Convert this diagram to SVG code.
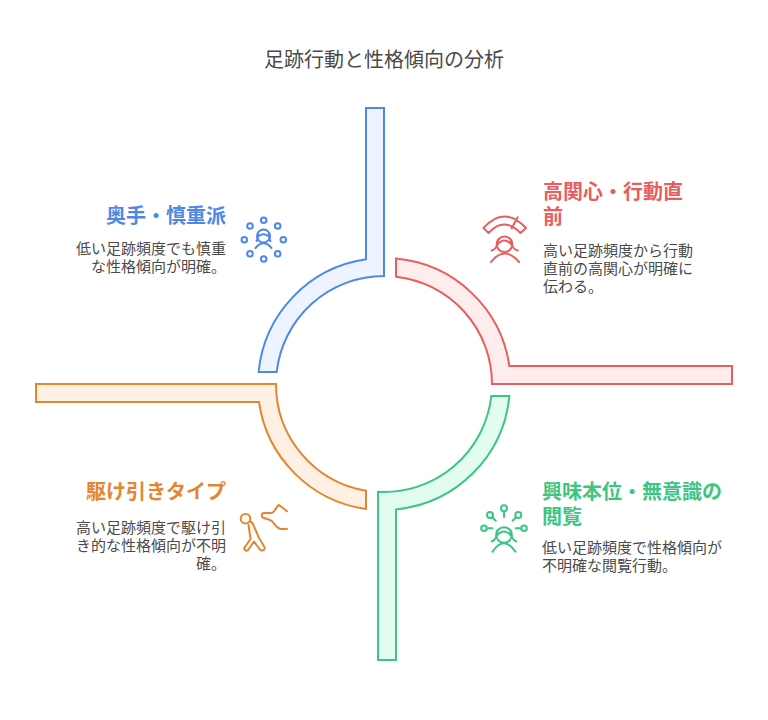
<svg xmlns="http://www.w3.org/2000/svg" width="768" height="720" viewBox="0 0 768 720">
<style>
text{font-family:"Noto Sans CJK JP","Noto Sans",sans-serif}
.title{font-size:20px;fill:#4a4a4a}
.h{font-size:20px;font-weight:700}
.b{font-size:15px;fill:#4a4a4a}
.e{text-anchor:end}
.band{stroke-width:2;stroke-linejoin:miter}
.ic{fill:none;stroke-width:2;stroke-linecap:round;stroke-linejoin:round}
.blue{stroke:#4e88e7}.red{stroke:#e85d5d}.green{stroke:#3cc583}.orange{stroke:#e48631}
</style>
<rect width="768" height="720" fill="#fff"/>
<text class="title" x="384" y="67" text-anchor="middle">足跡行動と性格傾向の分析</text>
<g id="connectors">
<path class="band blue" fill="#edf3ff" d="M366 108H384V276A108 108 0 0 0 276.7 372H258.6A126 126 0 0 1 366 259.3Z"/>
<path class="band red" fill="#ffecec" d="M396 258.6A126 126 0 0 1 509.4 366H732V384H492A108 108 0 0 0 396 276.7Z"/>
<path class="band orange" fill="#fff0e4" d="M36 384H276A108 108 0 0 0 366 490.7V509A126 126 0 0 1 259 402H36Z"/>
<path class="band green" fill="#e2fdf0" d="M378 660V491.8A108 108 0 0 0 491.3 396H509.4A126 126 0 0 1 396 509.4V660Z"/>
</g>
<g id="node-blue">
<text class="h e" x="226" y="223" fill="#4e88e7">奥手・慎重派</text>
<text class="b e"><tspan x="226" y="254">低い足跡頻度でも慎重</tspan><tspan x="226" y="272">な性格傾向が明確。</tspan></text>
<g class="ic blue">
<circle cx="263.700" cy="220.300" r="2.800"/><circle cx="277.700" cy="226" r="2.800"/><circle cx="283.300" cy="239.700" r="2.800"/><circle cx="277.700" cy="253.700" r="2.800"/><circle cx="263.700" cy="259" r="2.800"/><circle cx="250" cy="253.700" r="2.800"/><circle cx="244.300" cy="239.700" r="2.800"/><circle cx="250" cy="226" r="2.800"/>
<circle cx="263.500" cy="236" r="6.500"/>
<path d="M257.500 237Q263.500 231.500 269.500 237M256.500 241Q258 239.500 258 233M270.500 241Q269 239.500 269 233M255.500 248Q263.500 238.500 271.500 248"/>
</g>
</g>
<g id="node-red">
<text class="h" x="543" y="199" fill="#e85d5d">高関心・行動直</text>
<text class="h" x="543" y="224" fill="#e85d5d">前</text>
<text class="b"><tspan x="543" y="256">高い足跡頻度から行動</tspan><tspan x="543" y="274">直前の高関心が明確に</tspan><tspan x="543" y="292">伝わる。</tspan></text>
<g class="ic red">
<path d="M483.500 228Q504 205 526 228L520.500 233Q504 216 488.500 233ZM511.700 228.300L517.700 217.300"/>
<circle cx="504.500" cy="244.300" r="7.800"/>
<path d="M497 245Q504.500 236 512 245M491.700 250.500Q497 249.500 498 240M517.700 250.500Q512 249.500 511 240M491 262Q504.500 245 519 262"/>
</g>
</g>
<g id="node-orange">
<text class="h e" x="226" y="499" fill="#e48631">駆け引きタイプ</text>
<text class="b e"><tspan x="226" y="533">高い足跡頻度で駆け引</tspan><tspan x="226" y="551">き的な性格傾向が不明</tspan><tspan x="226" y="569">確。</tspan></text>
<g class="ic orange">
<circle cx="245.500" cy="518.700" r="4.800"/>
<path d="M250 521L253 524L259 538L264.500 547C265.500 550 261.500 552 259.500 549L254 541.500L248 550C246 552 243 549 245 547L250.500 539L248.500 525"/>
<path d="M287 511.300L279 505C276 506 275 513 271 513H264C261 513 261 517 264 518L270 520C274 521 275 528 281 529H287"/>
</g>
</g>
<g id="node-green">
<text class="h" x="542" y="499" fill="#3cc583">興味本位・無意識の</text>
<text class="h" x="542" y="524" fill="#3cc583">閲覧</text>
<text class="b"><tspan x="542" y="553">低い足跡頻度で性格傾向が</tspan><tspan x="542" y="571">不明確な閲覧行動。</tspan></text>
<g class="ic green">
<circle cx="504" cy="508.300" r="3"/><circle cx="490" cy="515" r="3"/><circle cx="518.300" cy="515" r="3"/><circle cx="484" cy="528.300" r="2.800"/><circle cx="524" cy="528.300" r="2.800"/>
<path d="M504 511.300V517M492.200 517.200L495.700 520.700M516.100 517.200L512.700 520.700M486.800 528.300H492.300M521.200 528.300H515.700"/>
<circle cx="504" cy="535" r="7.800"/>
<path d="M496.500 536Q504 527 511.500 536M491.700 541.500Q497 540 497.500 530M516.300 541.500Q511 540 510.500 530M492.500 551.700Q504 535 515.500 551.700"/>
</g>
</g>
</svg>
